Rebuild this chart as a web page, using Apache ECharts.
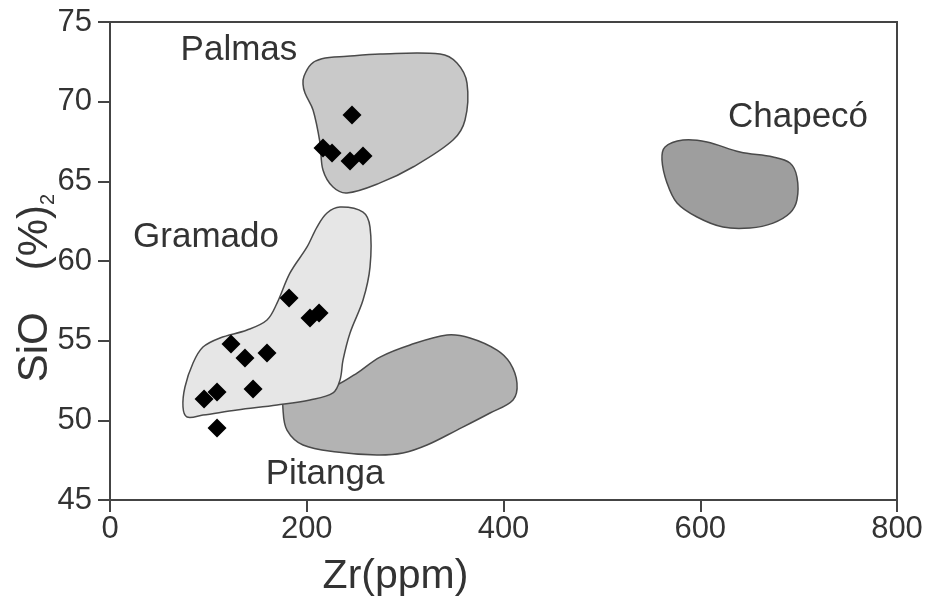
<!DOCTYPE html>
<html>
<head>
<meta charset="utf-8">
<script src="https://cdn.jsdelivr.net/npm/echarts@6/dist/echarts.min.js"></script>
<style>
html,body{margin:0;padding:0;background:#fff;}
#c{width:928px;height:599px;}
</style>
</head>
<body>
<div id="c"></div>
<script>
// ---- data ----
const xTicks = [0, 200, 400, 600, 800];
const yTicks = [45, 50, 55, 60, 65, 70, 75];

// sample points (diamonds)
const palmasZr   = [246, 216.5, 225.7, 244, 257.2];
const palmasSiO2 = [69.16, 67.09, 66.78, 66.28, 66.59];
const gramadoZr   = [182, 203.3, 212.5, 123, 137.2, 159.6, 95.6, 108.8, 145.4, 108.8];
const gramadoSiO2 = [57.68, 56.42, 56.74, 54.79, 53.91, 54.23, 51.34, 51.78, 51.97, 49.52];

// field outlines [Zr, SiO2]
const palmasField = [[197.2,71.6],[204.4,72.35],[215.4,72.7],[240.9,72.85],[274.5,72.99],[335.5,72.99],[352.7,72.43],[362.9,71.17],[360.9,68.85],[348.7,67.59],[308.0,65.9],[274.5,64.9],[240.9,64.27],[226.7,64.64],[216.5,65.71],[213.5,67.41],[206.4,69.48],[198.2,70.54],[196.2,71.1]];
const gramadoField = [[233.8,63.39],[257.2,63.07],[264.3,62.13],[264.3,59.62],[257.2,57.55],[244.0,55.48],[236.9,53.79],[233.8,52.53],[226.7,51.72],[203.3,51.28],[169.8,50.96],[129.1,50.65],[94.5,50.33],[78.3,50.21],[74.2,50.84],[76.2,52.09],[84.4,53.6],[94.5,54.6],[111.8,55.17],[139.3,55.67],[159.6,56.3],[169.8,57.36],[183.0,59.25],[200.3,60.88],[210.4,62.13],[220.6,63.01]];
const pitangaField = [[177.9,51.4],[213.5,51.9],[230.7,52.22],[251.1,52.97],[274.5,53.97],[305.0,54.73],[342.6,55.36],[365.9,55.17],[393.4,54.41],[406.6,53.6],[413.7,52.34],[409.7,51.28],[386.3,50.46],[352.7,49.39],[322.2,48.45],[297.8,47.95],[271.4,47.82],[230.7,48.01],[196.2,48.45],[179.9,49.39],[175.9,50.65]];
const chapecoField = [[564.2,67.15],[582.5,67.59],[606.9,67.47],[640.4,66.84],[674.0,66.53],[691.2,66.15],[698.3,65.27],[698.3,63.83],[691.2,63.01],[674.0,62.38],[650.6,62.07],[623.1,62.13],[596.7,62.76],[576.4,63.64],[566.2,64.9],[561.1,66.34]];

// field labels
const labelNames = ['Palmas', 'Gramado', 'Pitanga', 'Chapecó'];
const labelZr    = [131.1, 97.6, 218.6, 699.4];
const labelSiO2  = [73.2, 61.5, 46.6, 69.0];

// ---- chart ----
const FONT = 'Liberation Sans, Arial, sans-serif';
const TXT = '#333';
const AX = '#444';

function fieldSeries(pts, fill) {
  return {
    type: 'custom',
    data: pts,
    encode: {x: 0, y: 1},
    silent: true,
    clip: true,
    renderItem: function (params, api) {
      if (params.dataIndex !== 0) return;
      const p = pts.map(function (d) { return api.coord(d); });
      return {
        type: 'polygon',
        shape: {points: p, smooth: 0.35},
        style: {fill: fill, stroke: '#4a4a4a', lineWidth: 1.5}
      };
    }
  };
}

const chart = echarts.init(document.getElementById('c'), null, {renderer: 'canvas'});
chart.setOption({
  animation: false,
  backgroundColor: '#fff',
  grid: {left: 110, right: 31, top: 22, bottom: 99, outerBoundsMode: 'none', containLabel: false,
         show: true, borderColor: AX, borderWidth: 2, backgroundColor: 'transparent'},
  xAxis: {
    type: 'value', min: xTicks[0], max: xTicks[xTicks.length - 1], interval: 200,
    splitLine: {show: false},
    axisLine: {show: true, lineStyle: {color: AX, width: 2}},
    axisTick: {show: true, length: 12, lineStyle: {color: AX, width: 2}},
    axisLabel: {fontSize: 31, color: TXT, fontFamily: FONT, margin: 14},
    name: 'Zr(ppm)', nameLocation: 'middle', nameGap: 56, nameMoveOverlap: false,
    nameTextStyle: {fontSize: 41, color: TXT, fontFamily: FONT, padding: [0, 216, 0, 0]}
  },
  yAxis: {
    type: 'value', min: yTicks[0], max: yTicks[yTicks.length - 1], interval: 5,
    splitLine: {show: false},
    axisLine: {show: true, lineStyle: {color: AX, width: 2}},
    axisTick: {show: true, length: 12, lineStyle: {color: AX, width: 2}},
    axisLabel: {fontSize: 31, color: TXT, fontFamily: FONT, margin: 18},
    name: '{a|SiO}{g|}{a|(%)}{s|2}', nameLocation: 'middle', nameGap: 52, nameRotate: 90, nameMoveOverlap: false,
    nameTextStyle: {
      color: TXT, fontFamily: FONT, fontSize: 42, lineHeight: 46, padding: [0, 54, 0, 0],
      rich: {
        a: {fontSize: 42, lineHeight: 46, color: TXT, fontFamily: FONT, verticalAlign: 'middle'},
        g: {width: 42, lineHeight: 46},
        s: {fontSize: 20, lineHeight: 26, color: TXT, fontFamily: FONT, verticalAlign: 'bottom'}
      }
    }
  },
  series: [
    fieldSeries(pitangaField, '#b3b3b3'),
    fieldSeries(gramadoField, '#e6e6e6'),
    fieldSeries(palmasField, '#c9c9c9'),
    fieldSeries(chapecoField, '#9e9e9e'),
    {
      type: 'scatter', symbol: 'diamond', symbolSize: 19,
      itemStyle: {color: '#000', opacity: 1}, silent: true,
      data: palmasZr.map(function (v, i) { return [v, palmasSiO2[i]]; })
    },
    {
      type: 'scatter', symbol: 'diamond', symbolSize: 19,
      itemStyle: {color: '#000', opacity: 1}, silent: true,
      data: gramadoZr.map(function (v, i) { return [v, gramadoSiO2[i]]; })
    },
    {
      type: 'scatter', symbolSize: 0, silent: true,
      itemStyle: {opacity: 1},
      label: {show: true, position: 'inside', formatter: '{b}', fontSize: 35, color: TXT, opacity: 1, fontFamily: FONT},
      data: labelNames.map(function (n, i) { return {name: n, value: [labelZr[i], labelSiO2[i]]}; })
    }
  ]
});
</script>
</body>
</html>
